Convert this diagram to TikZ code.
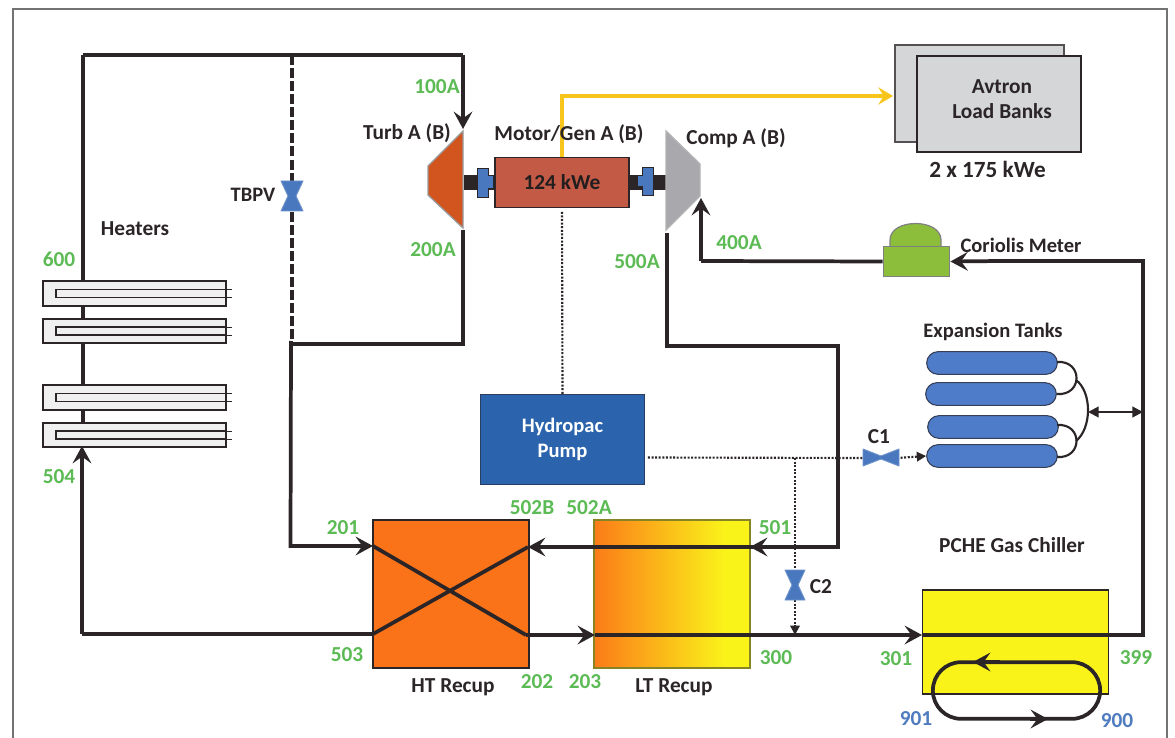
\documentclass[tikz,border=0pt]{standalone}
\usepackage{fontspec}
\setmainfont{Carlito}
\usetikzlibrary{arrows.meta,calc,shapes.misc}
\definecolor{pipe}{HTML}{2B2528}
\definecolor{lab}{HTML}{5DBB55}
\definecolor{bluelab}{HTML}{4F7CBF}
\definecolor{valve}{HTML}{4A78BE}
\definecolor{tank}{HTML}{4F7CC8}
\definecolor{motor}{HTML}{C25A45}
\definecolor{turb}{HTML}{D2541F}
\definecolor{comp}{HTML}{A9A9AD}
\definecolor{ht}{HTML}{FB7318}
\definecolor{ye}{HTML}{FAF31A}
\definecolor{mgreen}{HTML}{8CBE3C}
\definecolor{gold}{HTML}{F8C51C}
\definecolor{bank}{HTML}{D4D6D8}
\definecolor{pump}{HTML}{2B64AC}
\tikzset{
 x=0.75pt,y=-0.75pt,
 pipeline/.style={draw=pipe,line width=2.8pt,line join=miter},
 flow/.style={pipeline,-{Stealth[length=13pt,width=14pt,inset=5pt]}},
 signal/.style={draw=pipe,line width=1.6pt,dash pattern=on 1.5pt off 1.2pt},
 sigflow/.style={signal,-{Triangle[length=7pt,width=7pt,color=pipe]}},
 lbl/.style={font=\bfseries\fontsize{16}{18}\selectfont,text=lab,inner sep=0pt},
 lblb/.style={font=\bfseries\fontsize{16}{18}\selectfont,text=bluelab,inner sep=0pt},
 capt/.style={font=\bfseries\fontsize{16}{18}\selectfont,text=pipe,inner sep=0pt,align=center},
 capts/.style={capt,font=\bfseries\fontsize{15.4}{18}\selectfont},
 captl/.style={capt,font=\bfseries\fontsize{17.4}{18}\selectfont},
 heaterbox/.style={draw=pipe,line width=1.5pt,fill=black!6,minimum width=137pt,minimum height=18.5pt,inner sep=0pt,anchor=west},
 tankbox/.style={draw=pipe!70!tank,line width=0.8pt,fill=tank,rounded rectangle,minimum width=98pt,minimum height=17pt,inner sep=0pt},
 valveshape/.style={draw=valve!80!white,fill=valve,line width=0.7pt,line join=round},
}
\newcommand{\heater}[2]{%
 \node[heaterbox] (#1) at (42,#2) {};
 \draw[pipe,line width=1pt] (224.5,#2-4) -- (56,#2-4) -- (56,#2+4) -- (224.5,#2+4);
 \draw[pipe,line width=0.7pt] (224,#2-4) -- (232,#2-4) (224,#2+4) -- (232,#2+4);
}
\begin{document}
\begin{tikzpicture}
\useasboundingbox (0,0) rectangle (1175,738);
\fill[white] (0,0) rectangle (1175,738);
% page frame
\draw[black!55,line width=0.9pt] (13,738) -- (13,9) -- (1167,9) -- (1167,738);

% junctions
\coordinate (topL) at (83,55);
\coordinate (topR) at (463,55);
\coordinate (tbpvT) at (292,55);
\coordinate (tbpvB) at (292,344);
\coordinate (hotBR) at (463,344);
\coordinate (n201) at (373,546);
\coordinate (nW) at (290.5,546);
\coordinate (n503) at (373,634);
\coordinate (nSW) at (82,634);
\coordinate (n202) at (526,635);
\coordinate (n502) at (528,547);
\coordinate (n203) at (595,635);
\coordinate (n501) at (750,547);
\coordinate (n301) at (922,635);
\coordinate (nSE) at (1143,635);
\coordinate (nNE) at (1143,261);
\coordinate (n504) at (82,446);
\coordinate (n500) at (667,233);
\coordinate (c1a) at (667,346);
\coordinate (c1b) at (838,346);
\coordinate (c1c) at (838,547);
\coordinate (n200) at (463,230);
\coordinate (n100) at (463,129);
\coordinate (n400) at (701,198);
\coordinate (c4) at (701,261);
\coordinate (sj) at (795,458);
\coordinate (sj2) at (795,635);

% heaters (pipe behind)
\draw[pipeline] (topL) -- (83,430);
\heater{h1}{293.5}
\heater{h2}{331}
\heater{h3}{397.5}
\heater{h4}{435}

% recuperators
\node[draw=pipe,line width=0.8pt,fill=ht,minimum width=117pt,minimum height=111pt,inner sep=0pt] (htr) at (451,594) {};
\begin{scope}
\clip (594.5,520) rectangle (750,668);
\fill[ye] (594,520) rectangle (750,668);
\shade[left color=ht,right color=ye] (585,520) rectangle (725,668);
\end{scope}
\node[draw=black!45!ye!80!gray,line width=0.9pt,minimum width=117pt,minimum height=111pt,inner sep=0pt] (ltr) at (672,594) {};
\node[draw=pipe,line width=0.8pt,fill=ye,minimum width=139pt,minimum height=78pt,inner sep=0pt] (chiller) at (1015.5,642) {};

% Coriolis
\path[draw=black!50,line width=0.9pt,fill=mgreen] (890,248) -- (890,240) .. controls (890,218) and (941,218) .. (941,240) -- (941,248) -- cycle;
\node[draw=black!50,line width=0.9pt,fill=mgreen,minimum width=50pt,minimum height=22pt,inner sep=0pt] (cor) at (916.5,261.5) {};

% main loop
\draw[pipeline] (topL) -- (topR);
\draw[flow] (topR) -- (n100);
\draw[pipeline] (n200) -- (hotBR) -- (tbpvB);
\draw[pipeline,dash pattern=on 7.5pt off 2.3pt] (tbpvT) -- (tbpvB);
\draw[flow] (291,341) -- (nW) -- (n201);
\draw[pipeline] (n201) -- (n202);
\draw[flow] (nSW) -- (n504);
\draw[pipeline] (nSW) -- (n503) -- (n502);
\draw[flow] (n202) -- (n203);
\draw[flow] (n203) -- (n301);
\draw[pipeline] (n301) -- (nSE) -- (nNE) -- (1000,261);
\draw[flow] (1000,261) -- (cor.east);
\draw[pipeline] (n500) -- (c1a) -- (c1b) -- (c1c) -- (n501);
\draw[flow] (c1c) -- (n501);
\draw[flow] (n501) -- (n502);
\draw[pipeline] (cor.west) -- (c4);
\draw[flow] (c4) -- (n400);

% shaft
\fill[pipe] (464,175) rectangle (666,190);

% turbine and compressor
\path[draw=black!40,line width=1pt,fill=turb] (463,131) -- (428,166) -- (428,195) -- (463,228) -- cycle;
\path[draw=black!30,line width=1pt,fill=comp] (666,131) -- (700,164) -- (700,196) -- (666,230) -- cycle;

% couplings
\path[draw=pipe,fill=valve,line width=0.7pt] (477,168) rectangle (488,197);
\path[draw=pipe,fill=valve,line width=0.7pt] (642,167) rectangle (653,195);
\fill[valve] (487,176) rectangle (493,188);
\fill[valve] (638,176) rectangle (643,186);

% motor and gold line
\draw[gold,line width=3pt,-{Stealth[length=11pt,width=13pt,inset=4pt]}] (562,158) -- (562,96) -- (893,96);
\node[draw=pipe,line width=0.9pt,fill=motor,minimum width=100.5pt,minimum height=37pt,inner sep=0pt,
  font=\bfseries\fontsize{16}{18}\selectfont,text=pipe!80!black] (mot) at (562,182.5) {124 kWe};

% tanks
\node[tankbox] (tk1) at (992,363) {};
\node[tankbox] (tk2) at (991,394) {};
\node[tankbox] (tk3) at (993,427) {};
\node[tankbox] (tk4) at (992,456) {};
\draw[pipe,line width=1.6pt] (1057,362) .. controls (1083,360) and (1083,396) .. (1057,394);
\draw[pipe,line width=1.6pt] (1057,425) .. controls (1083,423) and (1083,459) .. (1057,457);
\draw[pipe,line width=1.6pt] (1076,380) .. controls (1092,392) and (1092,428) .. (1076,441);
\coordinate (bus) at (1088,412);
\coordinate (bus2) at (1143,412);
\draw[pipe,line width=1.6pt,{Triangle[length=8pt,width=8pt]}-{Triangle[length=8pt,width=8pt]}] (bus) -- (bus2);

% hydropac and signals
\node[draw=pipe!60!pump,line width=0.6pt,fill=pump,minimum width=123pt,minimum height=68pt,inner sep=0pt,align=center,
  font=\bfseries\fontsize{15.4}{19}\selectfont,text=white] (hyd) at (562.5,439.5) {Hydropac\\Pump};
\draw[signal] ($(mot.south)+(0,4)$) -- (hyd.north);
\draw[signal] ($(hyd.east)+(3,18)$) -- (863,458);
\draw[sigflow] (897,458) -- (tk4.west);
\draw[signal] (sj) -- (795,572);
\draw[sigflow] (795,600) -- (sj2);

% valves
\path[valveshape] (281,181) -- (303,181) -- (296,196) -- (303,211) -- (281,211) -- (288,196) -- cycle;
\path[valveshape] (863,449) -- (881,456) -- (899,449) -- (899,466) -- (881,459) -- (863,466) -- cycle;
\path[valveshape] (785,570) -- (805,570) -- (798,585) -- (805,600) -- (785,600) -- (792,585) -- cycle;

% load banks
\path[draw=pipe!80,line width=0.8pt,fill=bank] (895,45) rectangle (1064,142);
\node[draw=pipe,line width=0.9pt,fill=bank,minimum width=123pt,minimum height=72pt,inner sep=0pt] (lb) at (999,104) {};
\node[capt] (lbt) at (1002,99) {Avtron\\[1pt]Load Banks};

% chiller loop
\node[draw=pipe,line width=2.8pt,rounded rectangle,minimum width=125.5pt,minimum height=42.5pt,inner sep=0pt] (loop) at (1016.5,690.5) {};
\draw[pipe,line width=2.6pt,-{Stealth[length=13pt,width=14pt,inset=5pt]}] (1030,719) -- (1048,719);
\draw[pipe,line width=2.6pt,-{Stealth[length=13pt,width=14pt,inset=5pt]}] (1000,662) -- (973,662);

% captions
\node[capt] (c_heat) at (135,229) {Heaters};
\node[capts] (c_tb) at (253,195) {TBPV};
\node[capt] (c_tu) at (407,133) {Turb A (B)};
\node[capt] (c_mo) at (569,134) {Motor/Gen A (B)};
\node[capt] (c_co) at (736,138) {Comp A (B)};
\node[captl] (c_kw) at (987.5,169) {2 x 175 kWe};
\node[capts] (c_cm) at (1021,245) {Coriolis Meter};
\node[capts] (c_et) at (993,332) {Expansion Tanks};
\node[capt] (c_c1) at (879,437) {C1};
\node[capt] (c_c2) at (821,587) {C2};
\node[capt] (c_ch) at (1012,545) {PCHE Gas Chiller};
\node[capt] (c_ht) at (453,687) {HT Recup};
\node[capt] (c_lt) at (674,687) {LT Recup};

% state labels
\node[lbl] (s100) at (437,87) {100A};
\node[lbl] (s200) at (433,250) {200A};
\node[lbl] (s500) at (637,262) {500A};
\node[lbl] (s400) at (739,243) {400A};
\node[lbl] (s600) at (59,259) {600};
\node[lbl] (s504) at (59,477) {504};
\node[lbl] (s201) at (343,528) {201};
\node[lbl] (s503) at (347,655) {503};
\node[lbl] (s502b) at (532,508) {502B};
\node[lbl] (s502a) at (589,508) {502A};
\node[lbl] (s501) at (775,528) {501};
\node[lbl] (s202) at (537,682) {202};
\node[lbl] (s203) at (585,682) {203};
\node[lbl] (s300) at (776,658) {300};
\node[lbl] (s301) at (896,659) {301};
\node[lbl] (s399) at (1136,658) {399};
\node[lblb] (s901) at (916,719) {901};
\node[lblb] (s900) at (1117,721) {900};
\end{tikzpicture}
\end{document}
